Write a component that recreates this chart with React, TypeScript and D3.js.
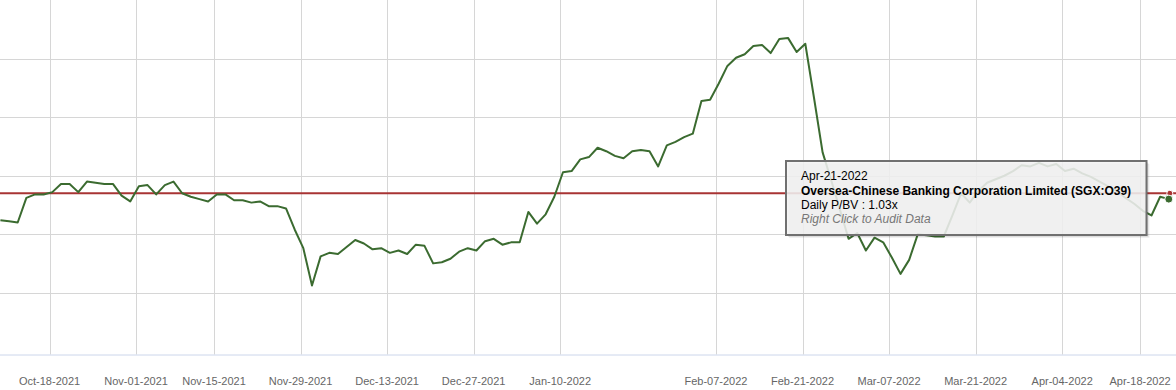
import React from 'react';
import * as d3 from 'd3';

// ---- data ----
const START_DATE = '2021-10-08';
const END_DATE = '2022-04-21';
const HOLIDAYS = ['2021-11-04', '2022-02-01', '2022-02-02', '2022-04-15'];

// Daily P/BV, one value per trading day from START_DATE to END_DATE
const PBV: number[] = [
  1.012, 1.011, 1.010, 1.031, 1.034, 1.034, 1.036, 1.043, 1.043, 1.036,
  1.045, 1.044, 1.043, 1.043, 1.033, 1.028, 1.041, 1.042, 1.034, 1.042,
  1.045, 1.035, 1.032, 1.030, 1.028, 1.034, 1.034, 1.029, 1.029, 1.027,
  1.028, 1.024, 1.024, 1.022, 1.004, 0.988, 0.956, 0.981, 0.984, 0.983,
  0.989, 0.995, 0.992, 0.987, 0.988, 0.984, 0.986, 0.983, 0.991, 0.990,
  0.975, 0.976, 0.979, 0.985, 0.988, 0.986, 0.994, 0.996, 0.991, 0.993,
  0.993, 1.019, 1.009, 1.017, 1.032, 1.053, 1.054, 1.064, 1.066, 1.074,
  1.071, 1.067, 1.065, 1.071, 1.072, 1.071, 1.058, 1.076, 1.079, 1.083,
  1.086, 1.114, 1.115, 1.129, 1.144, 1.151, 1.154, 1.161, 1.162, 1.155,
  1.167, 1.168, 1.156, 1.163, 1.117, 1.070, 1.046, 1.021, 0.996, 1.001,
  0.986, 0.997, 0.993, 0.980, 0.966, 0.978, 1.000, 0.999, 0.998, 0.998,
  1.016, 1.035, 1.027, 1.037, 1.044, 1.047, 1.050, 1.054, 1.059, 1.058,
  1.061, 1.058, 1.060, 1.054, 1.056, 1.052, 1.049, 1.045, 1.041, 1.037,
  1.031, 1.026, 1.020, 1.016, 1.032, 1.030,
];
const AVERAGE_PBV = 1.035;

const TICK_LABELS = [
  'Oct-18-2021', 'Nov-01-2021', 'Nov-15-2021', 'Nov-29-2021', 'Dec-13-2021',
  'Dec-27-2021', 'Jan-10-2022', 'Feb-07-2022', 'Feb-21-2022', 'Mar-07-2022',
  'Mar-21-2022', 'Apr-04-2022', 'Apr-18-2022',
];
const Y_GRID = [0.95, 1.0, 1.05, 1.1, 1.15];

const TOOLTIP_DATE = 'Apr-21-2022';
const COMPANY = 'Oversea-Chinese Banking Corporation Limited (SGX:O39)';
const TOOLTIP_VALUE = 'Daily P/BV : 1.03x';
const TOOLTIP_HINT = 'Right Click to Audit Data';

// ---- layout ----
const W = 1176;
const H = 390;
const PLOT_BOTTOM = 354.5;
const TICK_SHIFT = 0.32;
const FONT = '"Liberation Sans", Arial, Helvetica, sans-serif';

const iso = d3.timeFormat('%Y-%m-%d');
const parseIso = d3.timeParse('%Y-%m-%d');
const parseLabel = d3.timeParse('%b-%d-%Y');

function tradingDays(): string[] {
  const s = parseIso(START_DATE) as Date;
  const e = d3.timeDay.offset(parseIso(END_DATE) as Date, 1);
  return d3.timeDay
    .range(s, e)
    .filter((d) => d.getDay() !== 0 && d.getDay() !== 6 && !HOLIDAYS.includes(iso(d)))
    .map(iso);
}

export default function App() {
  const days = tradingDays();
  const n = PBV.length;
  const x = d3.scaleLinear().domain([0, n - 1]).range([0.4, 1168.8]);
  const y = d3.scaleLinear().domain([0.9, 1.2]).range([351, 0.5]);

  const ticks = TICK_LABELS.map((lab) => {
    const idx = days.indexOf(iso(parseLabel(lab) as Date));
    return { lab, pos: x(idx - TICK_SHIFT) };
  });

  const line = d3
    .line<number>()
    .x((_, i) => x(i))
    .y((d) => y(d));

  const lastX = x(n - 1);
  const lastY = y(PBV[n - 1]);

  const tip = { x: 786, y: 161, w: 360.5, h: 74 };

  return (
    <svg
      width={W}
      height={H}
      style={{ position: 'absolute', left: 0, top: 0, background: '#fff' }}
      fontFamily={FONT}
    >
      <defs>
        <clipPath id="plot">
          <rect x={0} y={0} width={W} height={PLOT_BOTTOM} />
        </clipPath>
      </defs>
      <rect x={0} y={0} width={W} height={H} fill="#fff" />
      {/* horizontal grid */}
      {Y_GRID.map((v) => (
        <line key={v} x1={0} x2={W} y1={Math.round(y(v)) + 0.5} y2={Math.round(y(v)) + 0.5} stroke="#d6d6d6" strokeWidth={1} />
      ))}
      {/* vertical grid */}
      {ticks.map((t) => (
        <line key={t.lab} x1={Math.round(t.pos) + 0.5} x2={Math.round(t.pos) + 0.5} y1={0} y2={PLOT_BOTTOM} stroke="#d6d6d6" strokeWidth={1} />
      ))}
      {/* axis line */}
      <line x1={0} x2={W} y1={PLOT_BOTTOM + 0.5} y2={PLOT_BOTTOM + 0.5} stroke="#ccd6eb" strokeWidth={1} />
      {/* x labels */}
      {ticks.map((t) => (
        <text key={'l' + t.lab} x={t.pos} y={385} textAnchor="middle" fontSize={11} fill="#666">
          {t.lab}
        </text>
      ))}
      <g clipPath="url(#plot)">
        <line x1={0} x2={W} y1={y(AVERAGE_PBV)} y2={y(AVERAGE_PBV)} stroke="#a83434" strokeWidth={2} />
        <path d={line(PBV) || ''} fill="none" stroke="#3b6b30" strokeWidth={2} strokeLinejoin="round" />
        <circle cx={lastX + 1} cy={y(AVERAGE_PBV)} r={3} fill="#a83434" stroke="#fff" strokeWidth={1} />
        <circle cx={lastX} cy={lastY} r={4} fill="#3b6b30" stroke="#fff" strokeWidth={1} />
      </g>
      {/* tooltip */}
      <g>
        <rect x={tip.x + 3} y={tip.y + 3} width={tip.w} height={tip.h} fill="#000" opacity={0.06} />
        <rect x={tip.x + 2} y={tip.y + 2} width={tip.w} height={tip.h} fill="#000" opacity={0.08} />
        <rect x={tip.x + 1} y={tip.y + 1} width={tip.w} height={tip.h} fill="#000" opacity={0.1} />
        <rect x={tip.x} y={tip.y} width={tip.w} height={tip.h} fill="rgb(247,247,247)" fillOpacity={0.86} stroke="#707070" strokeWidth={2} />
        <text x={tip.x + 15} y={180} fontSize={12} fill="#000">{TOOLTIP_DATE}</text>
        <text x={tip.x + 15} y={195} fontSize={12} fontWeight="bold" fill="#000">{COMPANY}</text>
        <text x={tip.x + 15} y={208.5} fontSize={12} fill="#000">{TOOLTIP_VALUE}</text>
        <text x={tip.x + 15} y={222.5} fontSize={12} fontStyle="italic" fill="#777">{TOOLTIP_HINT}</text>
      </g>
    </svg>
  );
}
